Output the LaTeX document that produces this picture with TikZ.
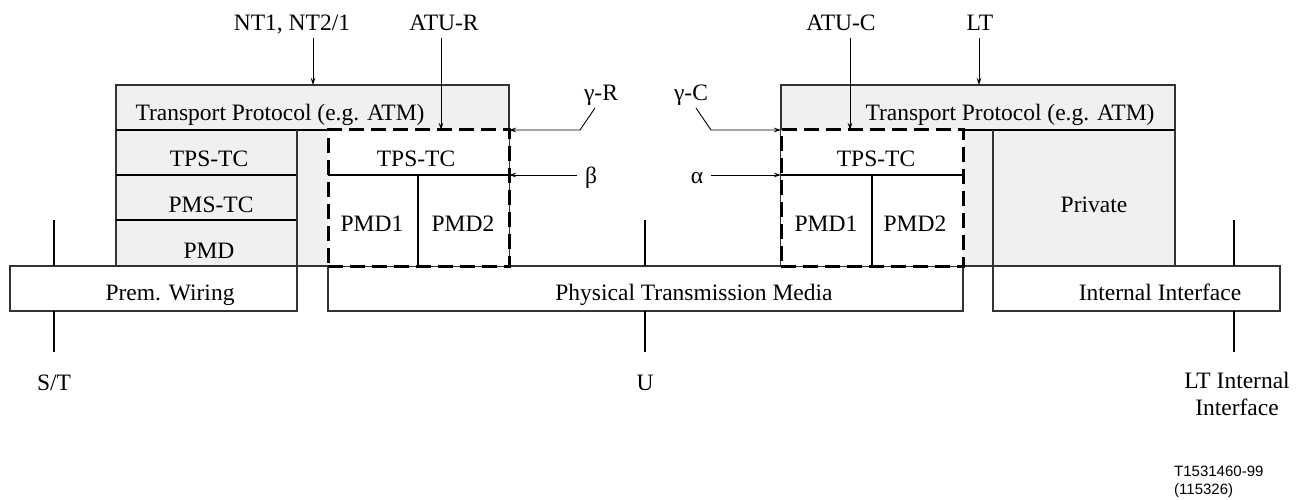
\documentclass[tikz,border=0pt]{standalone}
\usepackage{fontspec}
\setmainfont{Liberation Serif}
\newfontfamily\footfont{Liberation Sans}
\usetikzlibrary{arrows.meta}
\definecolor{boxgray}{HTML}{F0F0F0}
\definecolor{edgegray}{HTML}{333333}
\begin{document}
\begin{tikzpicture}[x=1pt,y=-1pt,
  lbl/.style={font=\fontsize{23.5}{28}\selectfont, inner sep=0pt, text height=16pt, text depth=5pt},
  graybox/.style={draw=edgegray, line width=1.2pt, fill=boxgray, inner sep=0pt, outer sep=0pt, anchor=north west},
  whitebox/.style={draw=edgegray, line width=1.2pt, fill=white, inner sep=0pt, outer sep=0pt, anchor=north west},
  dashbox/.style={draw=black, line width=3pt, dash pattern=on 15pt off 7pt, fill=white, inner sep=0pt, outer sep=0pt, anchor=north west},
  layer/.style={line width=2pt, black},
  thinline/.style={line width=1.2pt, edgegray},
  refmark/.style={line width=2pt, black},
  ptr/.style={line width=0.9pt, -{Stealth[length=7pt,width=4.5pt]}},
]
\useasboundingbox (0,0) rectangle (1309,500);

% ---- boxes ----
\node[graybox, minimum width=393pt, minimum height=181pt] (ntbox) at (116,85) {};
\node[graybox, minimum width=394pt, minimum height=181pt] (ltbox) at (781,85) {};
\node[whitebox, minimum width=287pt, minimum height=45pt] (prem) at (10,266) {};
\node[whitebox, minimum width=635pt, minimum height=45pt] (ptm) at (328,266) {};
\node[whitebox, minimum width=287pt, minimum height=45pt] (intf) at (993,266) {};
\node[dashbox, minimum width=181pt, minimum height=136pt] (atur) at (328,130) {};
\node[dashbox, minimum width=182pt, minimum height=136pt] (atuc) at (781,130) {};

% ---- layer lines, left ----
\coordinate (y175) at (0,175);
\draw[layer] (ntbox.west |- atur.north) -- (atur.north west);
\draw[layer] (116,175) -- (297,175);
\draw[layer] (116,220) -- (297,220);
\draw[thinline] (297,130) -- (prem.north east);
\draw[layer] (atur.west |- y175) -- (atur.east |- y175);
\draw[layer] (418,175) -- (418,266);

% ---- layer lines, right ----
\draw[layer] (atuc.north east) -- (ltbox.east |- atuc.north);
\draw[layer] (atuc.west |- y175) -- (atuc.east |- y175);
\draw[layer] (872,175) -- (872,266);
\draw[thinline] (993,130) -- (intf.north west);

% ---- texts in boxes ----
\node[lbl] (tpl) at (280,115) {Transport Protocol (e.g. ATM)};
\node[lbl] (tpr) at (1010,115) {Transport Protocol (e.g. ATM)};
\node[lbl] (tps1) at (209,161) {TPS-TC};
\node[lbl] (pms1) at (211,207) {PMS-TC};
\node[lbl] (pmd0) at (209,253) {PMD};
\node[lbl] (tps2) at (416,161) {TPS-TC};
\node[lbl] (pmd1) at (372,226) {PMD1};
\node[lbl] (pmd2) at (463,226) {PMD2};
\node[lbl] (tps3) at (876,161) {TPS-TC};
\node[lbl] (pmd3) at (826,226) {PMD1};
\node[lbl] (pmd4) at (915,226) {PMD2};
\node[lbl] (priv) at (1094,207) {Private};
\node[lbl] (premt) at (170,295) {Prem. Wiring};
\node[lbl] (ptmt) at (694,295) {Physical Transmission Media};
\node[lbl] (intft) at (1160,295) {Internal Interface};

% ---- top labels and pointers ----
\node[lbl] (nt1) at (292,25) {NT1, NT2/1};
\node[lbl] (atur-l) at (444,25) {ATU-R};
\node[lbl] (atuc-l) at (841,25) {ATU-C};
\node[lbl] (lt-l) at (980,25) {LT};
\coordinate (p1) at (313,38);
\coordinate (p2) at (441,38);
\coordinate (p3) at (850,38);
\coordinate (p4) at (979,38);
\draw[ptr] (p1) -- (p1 |- ntbox.north);
\draw[ptr] (p2) -- (p2 |- atur.north);
\draw[ptr] (p3) -- (p3 |- atuc.north);
\draw[ptr] (p4) -- (p4 |- ltbox.north);

% ---- interface labels gamma, beta, alpha ----
\node[lbl] (gr) at (601,95) {γ-R};
\node[lbl] (gc) at (691,95) {γ-C};
\node[lbl] (be) at (591,178) {β};
\node[lbl] (al) at (697,178) {α};
\coordinate (gr1) at (595,108);
\coordinate (gr2) at (580,130);
\coordinate (gc1) at (696,108);
\coordinate (gc2) at (711,130);
\coordinate (be1) at (577,175);
\coordinate (al1) at (711,175);
\draw[ptr] (gr1) -- (gr2) -- (gr2 -| atur.east);
\draw[ptr] (gc1) -- (gc2) -- (gc2 -| atuc.west);
\draw[ptr] (be1) -- (be1 -| atur.east);
\draw[ptr] (al1) -- (al1 -| atuc.west);

% ---- reference points ----
\node[lbl] (st) at (54,385) {S/T};
\node[lbl] (u) at (645,385) {U};
\node[inner sep=0pt, align=center, font=\fontsize{23.5}{27}\selectfont] (ltint) at (1237,394) {LT Internal\\Interface};
\coordinate (sta) at (54,220);
\coordinate (stb) at (54,352);
\coordinate (ua) at (645,220);
\coordinate (ub) at (645,352);
\coordinate (lta) at (1234,220);
\coordinate (ltb) at (1234,352);
\draw[refmark] (sta) -- (sta |- prem.north);
\draw[refmark] (stb |- prem.south) -- (stb);
\draw[refmark] (ua) -- (ua |- ptm.north);
\draw[refmark] (ub |- ptm.south) -- (ub);
\draw[refmark] (lta) -- (lta |- intf.north);
\draw[refmark] (ltb |- intf.south) -- (ltb);

% ---- figure id ----
\node[inner sep=0pt, anchor=north west, align=left, font=\footfont\fontsize{15}{17.5}\selectfont] (figid) at (1174,466) {T1531460-99\\(115326)};
\end{tikzpicture}
\end{document}
